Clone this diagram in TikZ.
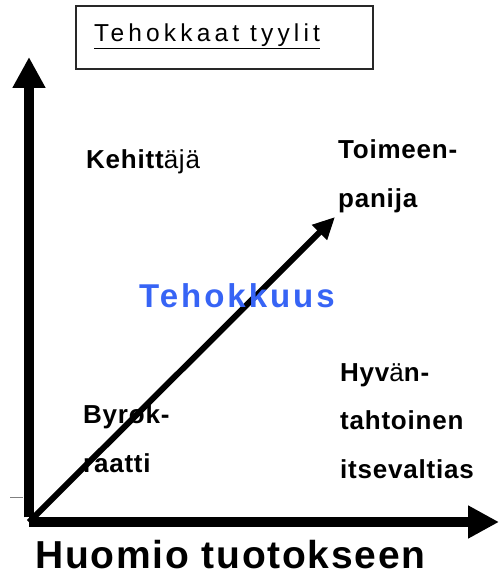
\documentclass[tikz,border=0pt]{standalone}
\usepackage{fontspec}
\setmainfont{Liberation Sans}
\newfontfamily\lblfont[LetterSpace=3]{Liberation Sans}
\newfontfamily\ttlfont[LetterSpace=17]{Liberation Sans}
\newfontfamily\bigfont[LetterSpace=4.5]{Liberation Sans}
\newfontfamily\tehofont[LetterSpace=9]{Liberation Sans}
\usepackage{tikz}
\usetikzlibrary{arrows.meta, positioning}
\definecolor{tehoblue}{RGB}{55,100,245}
\definecolor{boxgray}{RGB}{40,40,40}

\begin{document}
\begin{tikzpicture}[
  x=1pt, y=-1pt,
  lbl/.style={anchor=base west, inner sep=0pt, align=left,
              font=\lblfont\fontsize{26}{48.5}\selectfont\bfseries},
  ttl/.style={anchor=base west, inner sep=0pt,
              font=\ttlfont\fontsize{24.5}{30}\selectfont},
  axis/.style={-{Triangle[length=31pt, width=31pt]}, line width=9.5pt},
  eff/.style={-{Triangle[length=22pt, width=20pt]}, line width=6pt},
]
\useasboundingbox (0,0) rectangle (498,575);

% Title box
\draw[boxgray, line width=2pt] (76,6) rectangle (373,69);
\node[ttl] (title) at (94,42) {\underline{Tehokkaat tyylit}};

% Axes
\coordinate (o) at (29,522);
\coordinate (ytip) at (29,57);
\coordinate (xtip) at (499,522);
\coordinate (dtip) at (335,217);
\draw[axis] ([yshift=4.75pt]o) -- (ytip);
\draw[axis] (o) -- (xtip);
\draw[gray, line width=0.8pt] (10,497) -- (23,497);

% Effectiveness
\draw[eff] (o) -- (dtip);
\node[anchor=base west, inner sep=0pt, text=tehoblue,
      font=\tehofont\fontsize{33}{38}\selectfont\bfseries] (teho) at (139,307) {Tehokkuus};

% Styles (base = last line)
\node[lbl] (kehit) at (86,168) {Kehitt{\mdseries äjä}};
\node[lbl] (toim) at (338,207) {Toimeen-\\panija};
\node[lbl] (hyv) at (340,478) {Hyv{\mdseries ä}n-\\tahtoinen\\itsevaltias};
\node[lbl] (byro) at (83,472) {Byrok-\\raatti};

% Axis label
\node[anchor=base west, inner sep=0pt,
      font=\bigfont\fontsize{39}{46}\selectfont\bfseries] (huom) at (35,568) {Huomio tuotokseen};
\end{tikzpicture}
\end{document}
